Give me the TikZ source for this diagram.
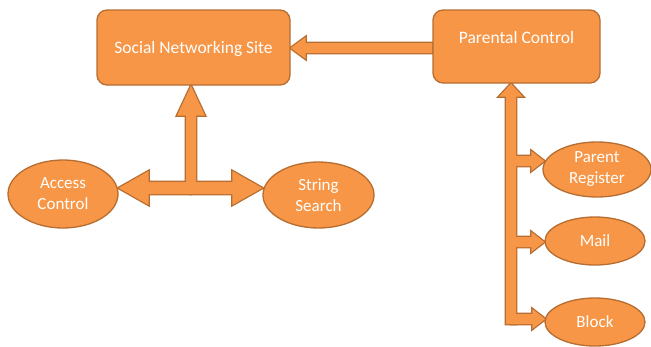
\documentclass[tikz,border=0pt]{standalone}
\usepackage{fontspec}
\setmainfont{Carlito}
\usetikzlibrary{calc,shapes.geometric}

\definecolor{orfill}{HTML}{F79646}
\definecolor{orline}{HTML}{B66D31}

\pgfdeclarelayer{bg}
\pgfsetlayers{bg,main}

% block arrow: style, tail, tip, shaft half width, head half width, head length
\newcommand{\blkarrow}[6]{%
  \coordinate (hd) at ($(#3)!#6!(#2)$);
  \path[#1] ($(#2)!#4!90:(#3)$) -- ($(hd)!#4!-90:(#2)$) -- ($(hd)!#5!-90:(#2)$) -- (#3)
    -- ($(hd)!#5!90:(#2)$) -- ($(hd)!#4!90:(#2)$) -- ($(#2)!#4!-90:(#3)$) -- cycle;
}

\begin{document}
\begin{tikzpicture}[x=1pt,y=-1pt,
    sitebox/.style={draw=orline, fill=orfill, line width=1.3pt, rounded corners=10pt,
      text=white, inner sep=0pt, font=\fontsize{17.5}{21}\selectfont},
    taskoval/.style={ellipse, draw=orline, fill=orfill, line width=1.3pt, text=white,
      align=center, inner xsep=0pt, inner ysep=-4pt, font=\fontsize{17}{21}\selectfont},
    arrline/.style={draw=orline, line width=2.6pt, line join=miter},
    arrfill/.style={fill=orfill}]
  \useasboundingbox (0,0) rectangle (651,346);

  % boxes
  \node[sitebox, minimum width=193pt, minimum height=75pt, text height=12pt, text depth=0pt]
    (social) at (193.5,47.5) {Social Networking Site};
  \node[sitebox, minimum width=167pt, minimum height=73pt, text height=12pt, text depth=19pt]
    (parental) at (516.5,46.5) {Parental Control};

  % ovals
  \node[taskoval, minimum width=110pt, minimum height=68pt] (access) at (63,194) {Access\\Control};
  \node[taskoval, minimum width=111pt, minimum height=66pt] (search) at (318.5,195) {String\\Search};
  \node[taskoval, minimum width=108pt, minimum height=55pt] (preg) at (597,169.5) {Parent\\Register};
  \node[taskoval, minimum width=100pt, minimum height=48pt] (mail) at (595,241) {Mail};
  \node[taskoval, minimum width=100pt, minimum height=48pt] (block) at (595,322) {Block};

  % junctions
  \coordinate (pcout) at ($(parental.west)+(0,1.5)$);
  \coordinate (hub) at (191,188);
  \coordinate (rfoot) at (511,324);
  \coordinate (pregin) at ($(preg.west)+(2,-8.5)$);
  \coordinate (mailin) at ($(mail.west)+(0,1)$);
  \coordinate (blockin) at ($(block.west)+(1,-3)$);

  \begin{pgfonlayer}{bg}
  \foreach \pass in {arrline,arrfill}{
    \blkarrow{\pass}{pcout}{pcout -| social.east}{5pt}{11pt}{15pt}
    \blkarrow{\pass}{hub}{hub |- social.south}{5pt}{14pt}{30pt}
    \blkarrow{\pass}{hub}{hub -| access.east}{6pt}{17pt}{30pt}
    \blkarrow{\pass}{hub}{hub -| search.west}{6pt}{17pt}{30pt}
    \blkarrow{\pass}{rfoot}{rfoot |- parental.south}{5pt}{12pt}{13pt}
    \blkarrow{\pass}{rfoot |- pregin}{pregin}{5pt}{10pt}{13pt}
    \blkarrow{\pass}{rfoot |- mailin}{mailin}{5pt}{10pt}{13pt}
    \blkarrow{\pass}{rfoot |- blockin}{blockin}{5pt}{10pt}{13pt}
  }
  \end{pgfonlayer}
\end{tikzpicture}
\end{document}
